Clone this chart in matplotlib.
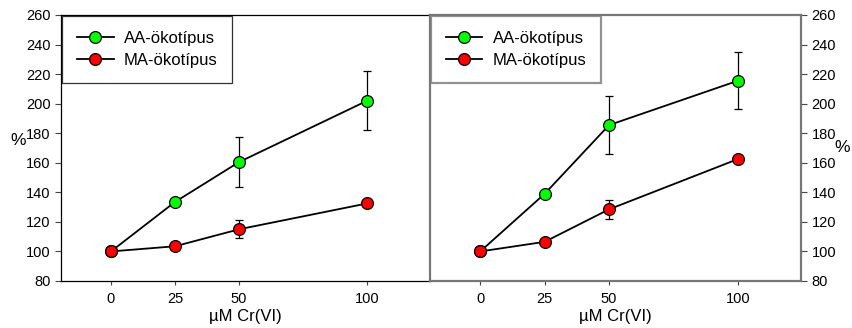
import numpy as np
import matplotlib
matplotlib.use("Agg")
import matplotlib.pyplot as plt

plt.rcParams['font.family'] = ['Liberation Sans', 'DejaVu Sans']

conc = [0, 25, 50, 100]
xticklabels = ['0', '25', '50', '100']

# left panel
aa_left = [100, 133.5, 160.5, 202]
aa_left_err = [0, 0, 17, 20]
ma_left = [100, 103.5, 115, 132.5]
ma_left_err = [0, 0, 6, 0]

# right panel
aa_right = [100, 139, 185.5, 215.5]
aa_right_err = [0, 0, 19.5, 19.3]
ma_right = [100, 106.5, 128.5, 162.5]
ma_right_err = [0, 0, 6.5, 0]

labels = ['AA-ökotípus', 'MA-ökotípus']
colors = ['#00ff00', '#ff0000']

fig = plt.figure(figsize=(8.52, 3.28), dpi=100)
ax1 = fig.add_axes([61/852, 1-281/328, 369/852, 266/328])
ax2 = fig.add_axes([430/852, 1-281/328, 371/852, 266/328])

def draw(ax, aa, aa_err, ma, ma_err, spine_col, spine_w):
    for y, e, c, lab in [(aa, aa_err, colors[0], labels[0]), (ma, ma_err, colors[1], labels[1])]:
        ax.errorbar(conc, y, yerr=e, fmt='none', ecolor='black', elinewidth=0.9,
                    capsize=3, capthick=0.9, zorder=2)
        ax.plot(conc, y, color='black', lw=1.3, marker='o', ms=8.5,
                mfc=c, mec='black', mew=0.9, label=lab, zorder=3)
    ax.set_xlim(-19.5, 124.5)
    ax.set_ylim(80, 260)
    ax.set_yticks(np.arange(80, 261, 20))
    ax.set_xticks(conc)
    ax.set_xticklabels(xticklabels)
    ax.tick_params(axis='both', labelsize=10.5, direction='out', length=4,
                   width=0.8, colors='#444444', labelcolor='black')
    ax.tick_params(axis='x', length=3, pad=5)
    ax.set_xlabel('µM Cr(VI)', fontsize=12, labelpad=2)
    for s in ax.spines.values():
        s.set_color(spine_col)
        s.set_linewidth(spine_w)
    leg = ax.legend(loc='upper left', bbox_to_anchor=(0.0, 1.0), fontsize=12,
                    frameon=True, fancybox=False, borderaxespad=0.05,
                    handlelength=2.2, labelspacing=0.42, borderpad=0.9,
                    handletextpad=0.6)
    leg.get_frame().set_edgecolor(spine_col)
    leg.get_frame().set_linewidth(spine_w)

draw(ax1, aa_left, aa_left_err, ma_left, ma_left_err, 'black', 0.9)
draw(ax2, aa_right, aa_right_err, ma_right, ma_right_err, '#777777', 1.6)

ax1.set_ylabel('%', fontsize=12.5, rotation=0, va='center', ha='center')
ax1.yaxis.set_label_coords(-0.1165, 0.53)
ax2.yaxis.tick_right()
ax2.yaxis.set_label_position('right')
ax2.set_ylabel('%', fontsize=12.5, rotation=0, va='center', ha='center')
ax2.yaxis.set_label_coords(1.1105, 0.50)

fig.savefig('out.png', dpi=100)
